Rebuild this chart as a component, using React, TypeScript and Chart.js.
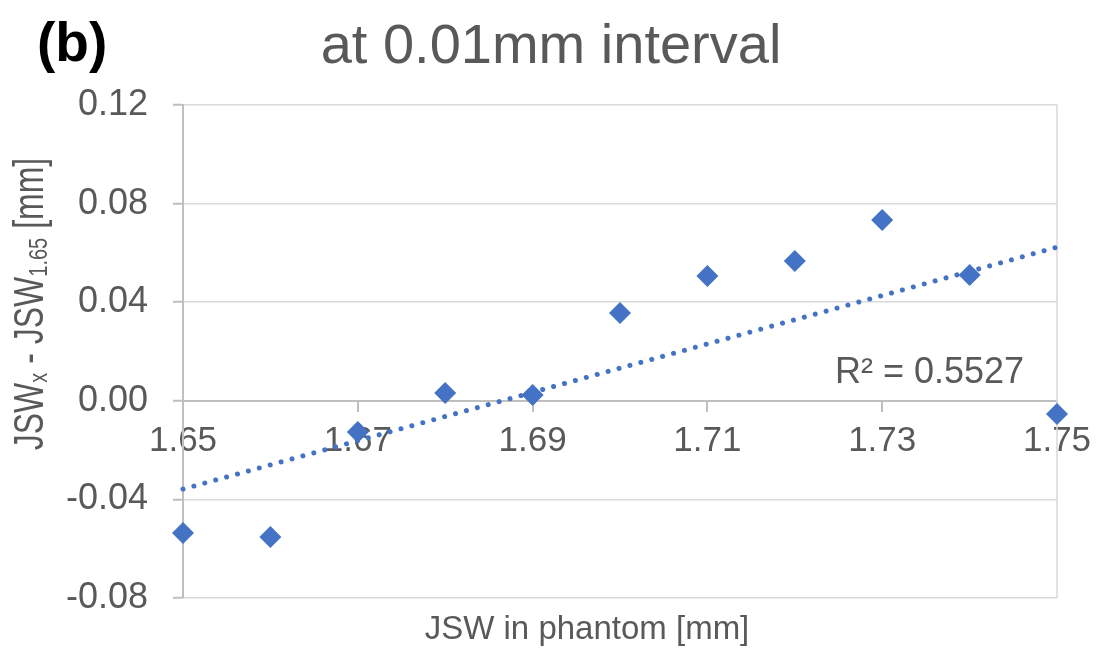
import React, { useEffect, useRef } from "react";
import { Chart, registerables } from "chart.js";

Chart.register(...registerables);

const xValues = [1.65, 1.66, 1.67, 1.68, 1.69, 1.7, 1.71, 1.72, 1.73, 1.74, 1.75];
const yValues = [-0.0536, -0.0553, -0.0127, 0.0032, 0.0024, 0.0356, 0.0506, 0.0567, 0.0733, 0.051, -0.0054];
const xTicks = [1.65, 1.67, 1.69, 1.71, 1.73, 1.75];
const yTicks = [-0.08, -0.04, 0, 0.04, 0.08, 0.12];
const panelLabel = "(b)";
const titleText = "at 0.01mm interval";
const xTitle = "JSW in phantom [mm]";
const r2Label = "R\u00b2 = 0.5527";

const FONT = "'Liberation Sans', Arial, sans-serif";
const TEXT = "#595959";
const BLUE = "#4472C4";

function linearFit(xs: number[], ys: number[]) {
  const n = xs.length;
  const mx = xs.reduce((a, b) => a + b, 0) / n;
  const my = ys.reduce((a, b) => a + b, 0) / n;
  let sxy = 0;
  let sxx = 0;
  for (let i = 0; i < n; i++) {
    sxy += (xs[i] - mx) * (ys[i] - my);
    sxx += (xs[i] - mx) * (xs[i] - mx);
  }
  const slope = sxy / sxx;
  return { slope, intercept: my - slope * mx };
}

const borderPlugin = {
  id: "rightBorder",
  beforeDatasetsDraw(chart: any) {
    const ctx = chart.ctx;
    const area = chart.chartArea;
    ctx.save();
    ctx.strokeStyle = "#D9D9D9";
    ctx.lineWidth = 1.5;
    ctx.beginPath();
    ctx.moveTo(area.right, area.top);
    ctx.lineTo(area.right, area.bottom);
    ctx.stroke();
    ctx.restore();
  },
};

const textPlugin = {
  id: "texts",
  afterDraw(chart: any) {
    const ctx = chart.ctx;
    ctx.save();
    ctx.fillStyle = "#000000";
    ctx.font = `bold 55px ${FONT}`;
    ctx.textAlign = "left";
    ctx.textBaseline = "alphabetic";
    ctx.fillText(panelLabel, 37, 61);

    ctx.fillStyle = TEXT;
    ctx.font = `56px ${FONT}`;
    ctx.textAlign = "center";
    ctx.fillText(titleText, 551, 63);

    ctx.font = `33px ${FONT}`;
    ctx.fillText(xTitle, 587, 639);

    ctx.font = `36px ${FONT}`;
    ctx.textAlign = "left";
    ctx.fillText(r2Label, 835, 383);

    // y-axis title with subscripts
    const parts: [string, boolean][] = [
      ["JSW", false],
      ["x", true],
      [" - JSW", false],
      ["1.65", true],
      [" [mm]", false],
    ];
    const mainF = `32px ${FONT}`;
    const subF = `20px ${FONT}`;
    let total = 0;
    for (const [t, s] of parts) {
      ctx.font = s ? subF : mainF;
      total += ctx.measureText(t).width;
    }
    ctx.translate(43, 304);
    ctx.rotate(-Math.PI / 2);
    ctx.scale(1, 1.3);
    let px = -total / 2;
    for (const [t, s] of parts) {
      ctx.font = s ? subF : mainF;
      ctx.fillText(t, px, s ? 3 : 0);
      px += ctx.measureText(t).width;
    }
    ctx.restore();
  },
};

export default function App() {
  const ref = useRef<HTMLCanvasElement | null>(null);
  useEffect(() => {
    document.body.style.margin = "0";
    const fit = linearFit(xValues, yValues);
    const x0 = xValues[0];
    const x1 = xValues[xValues.length - 1];
    const chart = new Chart(ref.current as HTMLCanvasElement, {
      type: "scatter",
      data: {
        datasets: [
          {
            data: xValues.map((x, i) => ({ x, y: yValues[i] })),
            pointStyle: "rectRot",
            pointRadius: 11,
            pointHoverRadius: 11,
            backgroundColor: BLUE,
            borderColor: BLUE,
            borderWidth: 0,
            clip: false,
          } as any,
          {
            data: [
              { x: x0, y: fit.intercept + fit.slope * x0 },
              { x: x1, y: fit.intercept + fit.slope * x1 },
            ],
            showLine: true,
            pointRadius: 0,
            borderColor: BLUE,
            borderWidth: 5,
            borderDash: [0.01, 11.3],
            borderCapStyle: "round",
            clip: false,
          } as any,
        ],
      },
      options: {
        responsive: false,
        animation: false,
        layout: { padding: { top: 105, right: 45, bottom: 60, left: 0 } },
        plugins: { legend: { display: false }, tooltip: { enabled: false }, title: { display: false } },
        scales: {
          x: {
            type: "linear",
            position: { y: 0 } as any,
            min: 1.65,
            max: 1.75,
            afterBuildTicks: (s: any) => {
              s.ticks = xTicks.map((v) => ({ value: v }));
            },
            grid: { drawOnChartArea: false, drawTicks: true, tickLength: 10, color: "#BFBFBF", lineWidth: 2 },
            border: { display: true, color: "#BFBFBF", width: 2 },
            ticks: {
              font: { family: FONT, size: 35 },
              color: TEXT,
              padding: 10,
              maxRotation: 0,
              autoSkip: false,
              callback: (v: any) => Number(v).toFixed(2),
            },
          },
          y: {
            type: "linear",
            min: -0.08,
            max: 0.12,
            afterBuildTicks: (s: any) => {
              s.ticks = yTicks.map((v) => ({ value: v }));
            },
            afterFit: (s: any) => {
              s.width = 183;
            },
            grid: { color: "#D9D9D9", lineWidth: 1.5, drawTicks: true, tickLength: 10, tickColor: "#BFBFBF", tickWidth: 2 },
            border: { display: true, color: "#BFBFBF", width: 2 },
            ticks: {
              font: { family: FONT, size: 36 },
              color: TEXT,
              padding: 25,
              autoSkip: false,
              callback: (v: any) => Number(v).toFixed(2),
            },
          },
        },
      },
      plugins: [borderPlugin, textPlugin],
    });
    return () => chart.destroy();
  }, []);
  return <canvas ref={ref} width={1102} height={658} style={{ display: "block" }} />;
}
